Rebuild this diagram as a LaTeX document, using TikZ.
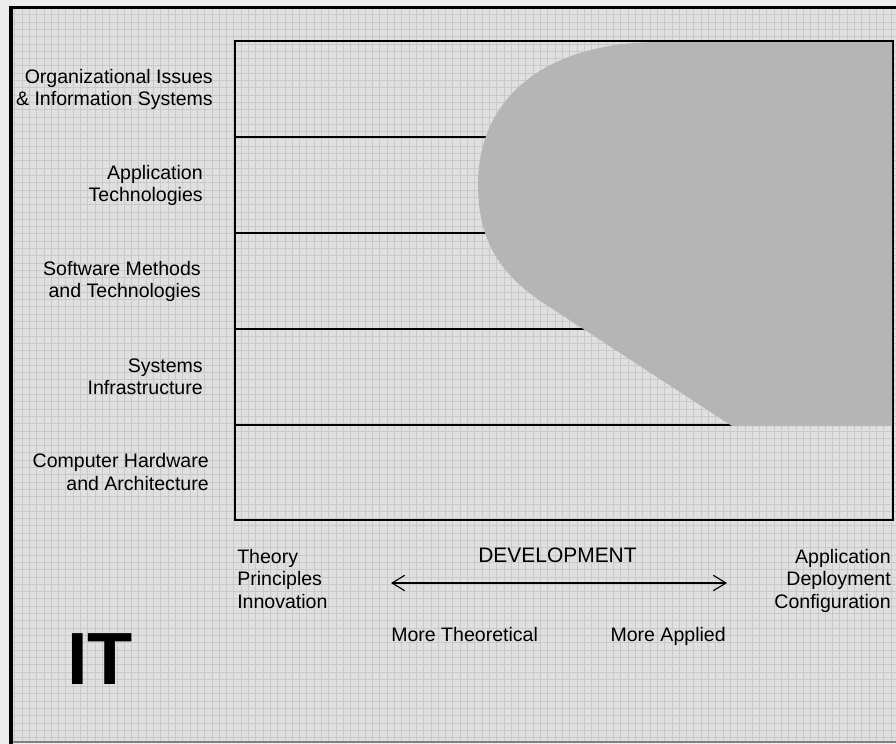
\documentclass[tikz,border=0pt]{standalone}
\usepackage{fontspec}
\setmainfont{Liberation Sans}
\usetikzlibrary{arrows.meta}

\definecolor{margin}{gray}{0.93}
\definecolor{paper}{gray}{0.88}
\definecolor{gridline}{gray}{0.79}
\definecolor{blob}{gray}{0.71}

\begin{document}
\begin{tikzpicture}[x=0.025cm, y=-0.025cm,
    >={Straight Barb[length=9pt,width=11pt]},
    rowtext/.style={anchor=east, align=right, inner sep=0, font=\fontsize{13.9}{15.7}\selectfont},
    axistext/.style={inner sep=0, font=\fontsize{13.9}{15.9}\selectfont},
    rowline/.style={line width=0.9pt}]
  \useasboundingbox (0,0) rectangle (896,744);

  % paper, grid and frame
  \fill[margin] (0,0) rectangle (896,744);
  \fill[paper] (11,8) rectangle (896,742);
  \draw[gridline,line width=0.35pt] (11,742) grid[step=0.1825cm] (896,8);
  \draw[gray,line width=1pt] (11,742) -- (896,742);
  \draw[line width=2.2pt] (11,744) -- (11,7.5) -- (896,7.5);

  % layers
  \draw[rowline] (235,41) rectangle (893,520);
  \draw[rowline] (235,137) -- (893,137);
  \draw[rowline] (235,233) -- (893,233);
  \draw[rowline] (235,329) -- (893,329);
  \draw[rowline] (235,425) -- (893,425);

  % shaded part
  \fill[blob] (892,42) -- (660,42) .. controls (547,42) and (478,96) .. (478,185)
    .. controls (478,245) and (504.5,278) .. (546.5,305) -- (732,426) -- (892,426) -- cycle;

  \node[rowtext] (org) at (213,89) {Organizational Issues\\\& Information Systems};
  \node[rowtext] (app) at (203,185) {Application\\Technologies};
  \node[rowtext] (soft) at (201,281) {Software Methods\\and Technologies};
  \node[rowtext] (sys) at (203,377) {Systems\\Infrastructure};
  \node[rowtext] (hw) at (209,472) {Computer Hardware\\and Architecture};

  % axis
  \node[axistext,anchor=north west,align=left] (theory) at (237,549) {Theory\\Principles\\Innovation};
  \node[axistext,anchor=north east,align=right] (deploy) at (891,549) {Application\\Deployment\\Configuration};
  \node[axistext,anchor=base,font=\fontsize{14.9}{17}\selectfont] (dev) at (557.5,562) {DEVELOPMENT};
  \coordinate (devL) at (391,583);
  \coordinate (devR) at (727,583);
  \draw[<->,line width=0.8pt] (devL) -- (devR);
  \node[axistext,anchor=base west] (moretheo) at (391,641) {More Theoretical};
  \node[axistext,anchor=base east] (moreapp) at (726,641) {More Applied};

  \node[inner sep=0,anchor=base west,font=\fontsize{52.6}{60}\selectfont\bfseries] (it) at (67,684) {IT};
\end{tikzpicture}
\end{document}
